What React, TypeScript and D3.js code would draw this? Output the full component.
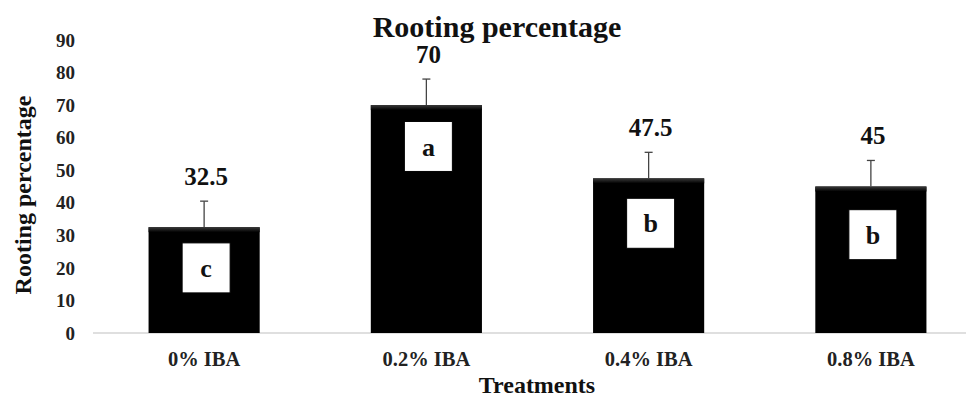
import React from "react";
import * as d3 from "d3";

const categories = ["0% IBA", "0.2% IBA", "0.4% IBA", "0.8% IBA"];
const rooting = [32.5, 70, 47.5, 45];
const errors = [8, 8, 8, 8];
const groupLetters = ["c", "a", "b", "b"];
const letterLevels = [20, 57.3, 33.7, 30.2];
const yTicks = [0, 10, 20, 30, 40, 50, 60, 70, 80, 90];

const W = 966;
const H = 400;
const FONT = "'Liberation Serif', 'Times New Roman', serif";

export default function App() {
  const x = d3.scaleBand<string>().domain(categories).range([93, 982]).paddingInner(0.5).paddingOuter(0.25);
  const y = d3.scaleLinear().domain([0, 90]).range([333, 40]);
  const bw = x.bandwidth();

  return (
    <svg width={W} height={H} style={{ position: "absolute", left: 0, top: 0, background: "#fff" }} fontFamily={FONT}>
      <defs>
        <linearGradient id="barTop" x1="0" y1="0" x2="0" y2="1">
          <stop offset="0" stopColor="#3a3a3a" />
          <stop offset="1" stopColor="#000" />
        </linearGradient>
      </defs>
      <text x={497} y={37} textAnchor="middle" fontSize={30} fontWeight="bold" fill="#111">
        Rooting percentage
      </text>

      {yTicks.map((t) => (
        <text key={t} x={75} y={y(t)} dy="0.35em" textAnchor="end" fontSize={19} fontWeight="bold" fill="#222">
          {t}
        </text>
      ))}

      <text transform={`translate(31,195) rotate(-90)`} textAnchor="middle" fontSize={24} fontWeight="bold" fill="#111">
        Rooting percentage
      </text>

      <line x1={93} x2={W} y1={y(0)} y2={y(0)} stroke="#d4d4d4" strokeWidth={1.5} />

      {categories.map((c, i) => {
        const x0 = x(c)!;
        const cx = x0 + bw / 2;
        const top = y(rooting[i]);
        const errTop = y(rooting[i] + errors[i]);
        const ly = y(letterLevels[i]);
        return (
          <g key={c}>
            <rect x={x0} y={top} width={bw} height={y(0) - top} fill="#000" />
            <rect x={x0} y={top} width={bw} height={5} fill="url(#barTop)" />
            <line x1={cx} x2={cx} y1={top} y2={errTop} stroke="#444" strokeWidth={1.3} />
            <line x1={cx - 4} x2={cx + 4} y1={errTop} y2={errTop} stroke="#444" strokeWidth={1.3} />
            <text x={cx + 2} y={errTop - 16} textAnchor="middle" fontSize={25} fontWeight="bold" fill="#111">
              {rooting[i]}
            </text>
            <rect x={cx + 2 - 24} y={ly - 25} width={48} height={50} fill="#fff" stroke="#000" strokeWidth={1} />
            <text x={cx + 2} y={ly} dy="0.35em" textAnchor="middle" fontSize={26} fontWeight="bold" fill="#111">
              {groupLetters[i]}
            </text>
            <text x={cx} y={366} textAnchor="middle" fontSize={20.5} fontWeight="bold" fill="#222">
              {c}
            </text>
          </g>
        );
      })}

      <text x={537} y={393} textAnchor="middle" fontSize={24} fontWeight="bold" fill="#111">
        Treatments
      </text>
    </svg>
  );
}
